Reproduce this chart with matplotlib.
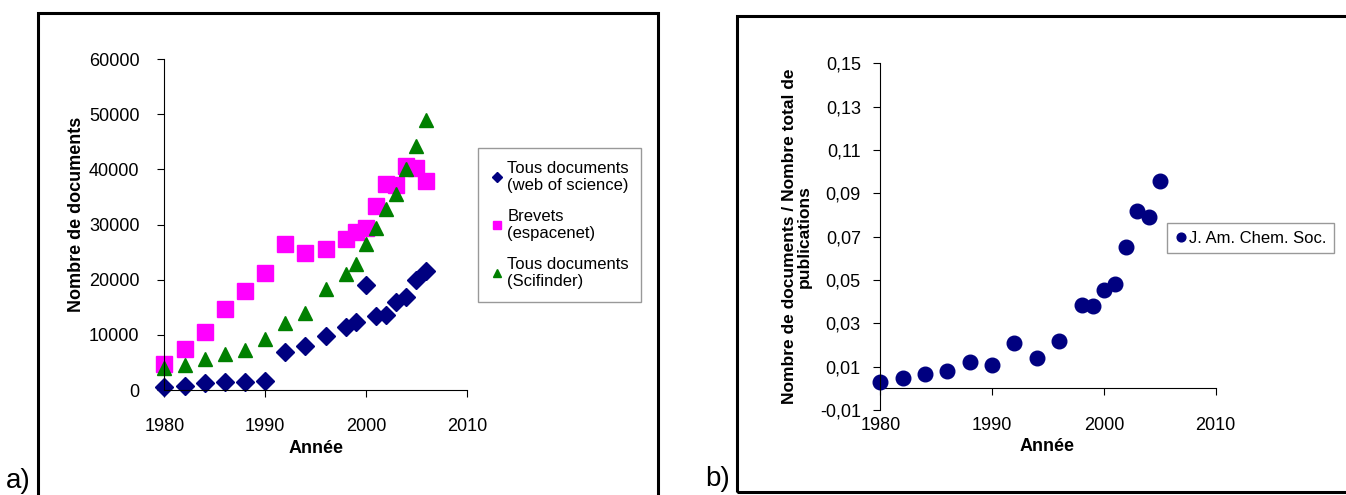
import numpy as np
import matplotlib.pyplot as plt
from matplotlib.patches import Rectangle

plt.rcParams['font.family'] = ['Liberation Sans', 'DejaVu Sans']

# a) number of documents per year
years_wos = [1980, 1982, 1984, 1986, 1988, 1990, 1992, 1994, 1996, 1998, 1999,
             2000, 2001, 2002, 2003, 2004, 2005, 2006]
docs_wos = [600, 800, 1200, 1400, 1500, 1700, 6800, 8000, 9700, 11500, 12400,
            19100, 13500, 13600, 15900, 16900, 19900, 21600]

years_pat = [1980, 1982, 1984, 1986, 1988, 1990, 1992, 1994, 1996, 1998, 1999,
             2000, 2001, 2002, 2003, 2004, 2005, 2006]
docs_pat = [4700, 7400, 10600, 14700, 18000, 21300, 26400, 24900, 25500, 27300,
            28600, 29400, 33400, 37400, 37100, 40600, 40200, 37900]

years_sci = [1980, 1982, 1984, 1986, 1988, 1990, 1992, 1994, 1996, 1998, 1999,
             2000, 2001, 2002, 2003, 2004, 2005, 2006]
docs_sci = [3900, 4500, 5600, 6600, 7300, 9200, 12200, 14000, 18400, 21100,
            22800, 26500, 29300, 32900, 35500, 40000, 44200, 49000]

# b) fraction of publications, J. Am. Chem. Soc.
years_jacs = [1980, 1982, 1984, 1986, 1988, 1990, 1992, 1994, 1996, 1998, 1999,
              2000, 2001, 2002, 2003, 2004, 2005]
frac_jacs = [0.0030, 0.0050, 0.0066, 0.0081, 0.0122, 0.0108, 0.0211, 0.0141,
             0.0220, 0.0385, 0.0380, 0.0454, 0.0480, 0.0651, 0.0817, 0.0792, 0.0958]

xticks = [1980, 1990, 2000, 2010]
yticks_a = [0, 10000, 20000, 30000, 40000, 50000, 60000]
yticks_b = [-0.01, 0.01, 0.03, 0.05, 0.07, 0.09, 0.11, 0.13, 0.15]

fig = plt.figure(figsize=[13.46, 4.95], dpi=100)

# ---- panel a
ax = fig.add_axes([0.1221, 0.2121, 0.2247, 0.6687])
ax.plot(years_wos, docs_wos, marker='D', markersize=9.5, color='#000080', linestyle='None',
        label='Tous documents\n(web of science)')
ax.plot(years_pat, docs_pat, marker='s', markersize=11.5, color='#FF00FF', linestyle='None',
        label='Brevets\n(espacenet)')
ax.plot(years_sci, docs_sci, marker='^', markersize=9.5, color='#008000', linestyle='None',
        label='Tous documents\n(Scifinder)')
ax.set_xlim([1980, 2010])
ax.set_ylim([0, 60000])
ax.set_xticks(xticks)
ax.set_xticklabels([str(t) for t in xticks], fontsize=13)
ax.set_yticks(yticks_a)
ax.set_yticklabels([str(t) for t in yticks_a], fontsize=13)
ax.tick_params(axis='x', direction='out', length=5, pad=15)
ax.tick_params(axis='y', direction='out', length=5, pad=13)
for side in ['top', 'right']:
    ax.spines[side].set_visible(False)
ax.set_xlabel('Année', fontsize=13, fontweight='bold')
ax.xaxis.set_label_coords(0.5, -0.15)
ax.set_ylabel('Nombre de documents', fontsize=13, fontweight='bold')
ax.yaxis.set_label_coords(-0.262, 0.53)
for ln in ax.lines:
    ln.set_clip_on(False)
leg = ax.legend(loc='upper left', bbox_to_anchor=(0.3551, 0.701), bbox_transform=fig.transFigure,
                fontsize=12, frameon=True, fancybox=False, borderaxespad=0, markerscale=0.55,
                handlelength=0.8, handletextpad=0.2, labelspacing=0.95, borderpad=0.75)
leg.get_frame().set_edgecolor('#808080')
leg.get_frame().set_linewidth(1)

# ---- panel b
bx = fig.add_axes([0.654, 0.1717, 0.2492, 0.7004])
bx.plot(years_jacs, frac_jacs, marker='o', markersize=10.5, color='#000080', linestyle='None',
        label='J. Am. Chem. Soc.', clip_on=False)
bx.set_xlim([1980, 2010])
bx.set_ylim([-0.01, 0.15])
bx.set_xticks(xticks)
bx.set_xticklabels([str(t) for t in xticks], fontsize=13)
bx.set_yticks(yticks_b)
bx.set_yticklabels([('%.2f' % t).replace('.', ',') for t in yticks_b], fontsize=13)
bx.tick_params(axis='x', length=0, pad=5)
bx.tick_params(axis='y', direction='out', length=5, pad=9)
for side in ['top', 'right', 'bottom']:
    bx.spines[side].set_visible(False)
# x axis line crossing at y = 0
sec = bx.secondary_xaxis(0.01 / 0.16)
sec.set_xticks(xticks)
sec.tick_params(axis='x', direction='out', length=5, labelbottom=False)
bx.set_xlabel('Année', fontsize=13, fontweight='bold')
bx.xaxis.set_label_coords(0.497, -0.08)
bx.set_ylabel('Nombre de documents / Nombre total de\npublications', fontsize=12.5,
              fontweight='bold', linespacing=1.0)
bx.yaxis.set_label_coords(-0.2045, 0.5)
leg2 = bx.legend(loc='upper left', bbox_to_anchor=(0.867, 0.549), bbox_transform=fig.transFigure,
                 fontsize=12, frameon=True, fancybox=False, borderaxespad=0, markerscale=0.6,
                 handlelength=0.8, handletextpad=0.1, borderpad=0.45)
leg2.get_frame().set_edgecolor('#808080')
leg2.get_frame().set_linewidth(1)

# panel frames and letters
fig.add_artist(Rectangle((0.0286, -0.2), 0.4603, 1.1737, transform=fig.transFigure,
                         fill=False, edgecolor='black', linewidth=2.2))
fig.add_artist(Rectangle((0.5473, 0.0061), 0.6, 0.9616, transform=fig.transFigure,
                         fill=False, edgecolor='black', linewidth=2.2))
fig.text(0.0045, 0.003, 'a)', fontsize=20, ha='left', va='bottom')
fig.text(0.5238, 0.006, 'b)', fontsize=20, ha='left', va='bottom')

plt.savefig('out.png', dpi=100)
